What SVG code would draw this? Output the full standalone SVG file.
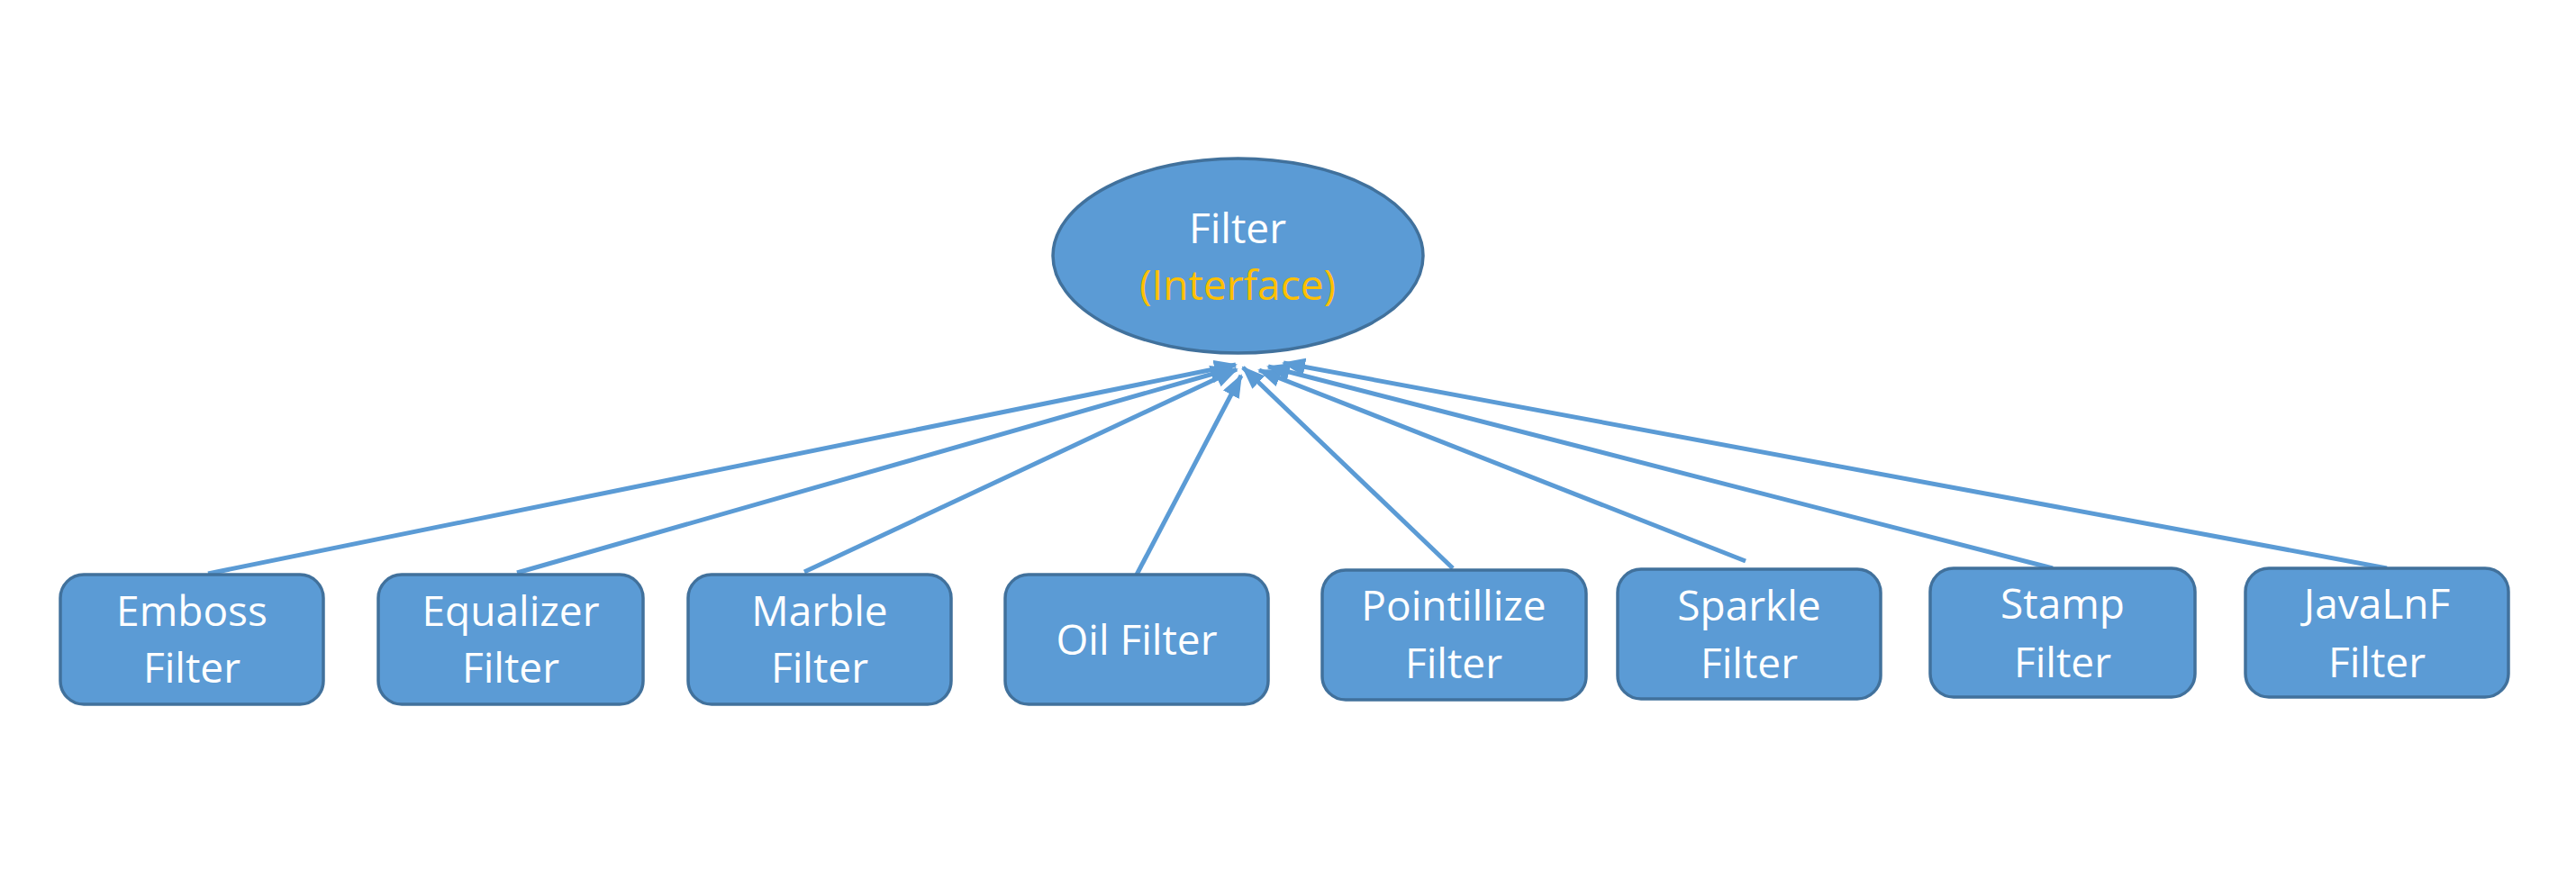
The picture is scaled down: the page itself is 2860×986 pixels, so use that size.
<svg xmlns="http://www.w3.org/2000/svg" width="2860" height="986" viewBox="0 0 2860 986">
<style>
.node{fill:#5B9BD5;stroke:#41719C;stroke-width:3.5}
.t{font-family:"Open Sans","Liberation Sans",sans-serif;font-size:46px;fill:#FFFFFF;text-anchor:middle}
.y{fill:#FFC000}
.c{stroke:#5B9BD5;stroke-width:5;fill:none;marker-end:url(#ah)}
</style>
<defs>
<marker id="ah" markerUnits="userSpaceOnUse" markerWidth="26" markerHeight="20" refX="24" refY="10" orient="auto" viewBox="0 0 26 20">
<path d="M0,0 L26,10 L0,20 Z" fill="#5B9BD5"/>
</marker>
</defs>
<rect width="2860" height="986" fill="#FFFFFF"/>
<g id="connectors">
<line class="c" x1="231" y1="637" x2="1372" y2="405"/>
<line class="c" x1="574" y1="636" x2="1368" y2="409"/>
<line class="c" x1="893" y1="635" x2="1373" y2="410"/>
<line class="c" x1="1262" y1="638" x2="1378" y2="417"/>
<line class="c" x1="1613" y1="631" x2="1380" y2="408"/>
<line class="c" x1="1938" y1="623" x2="1398" y2="411"/>
<line class="c" x1="2279" y1="631" x2="1408" y2="407"/>
<line class="c" x1="2650" y1="631" x2="1425" y2="403"/>
</g>
<g id="filter">
<ellipse class="node" cx="1374.5" cy="284" rx="205.5" ry="108"/>
<text class="t" x="1374" y="270">Filter</text>
<text class="t y" x="1374" y="333">(Interface)</text>
</g>
<g id="emboss">
<rect class="node" x="67" y="638" width="292" height="144" rx="26"/>
<text class="t" x="213" y="695">Emboss</text>
<text class="t" x="213" y="758">Filter</text>
</g>
<g id="equalizer">
<rect class="node" x="420" y="638" width="294" height="144" rx="26"/>
<text class="t" x="567" y="695">Equalizer</text>
<text class="t" x="567" y="758">Filter</text>
</g>
<g id="marble">
<rect class="node" x="764" y="638" width="292" height="144" rx="26"/>
<text class="t" x="910" y="695">Marble</text>
<text class="t" x="910" y="758">Filter</text>
</g>
<g id="oil">
<rect class="node" x="1116" y="638" width="292" height="144" rx="26"/>
<text class="t" x="1262" y="727">Oil Filter</text>
</g>
<g id="pointillize">
<rect class="node" x="1468" y="633" width="293" height="144" rx="26"/>
<text class="t" x="1614" y="689">Pointillize</text>
<text class="t" x="1614" y="753">Filter</text>
</g>
<g id="sparkle">
<rect class="node" x="1796" y="632" width="292" height="144" rx="26"/>
<text class="t" x="1942" y="689">Sparkle</text>
<text class="t" x="1942" y="753">Filter</text>
</g>
<g id="stamp">
<rect class="node" x="2143" y="631" width="294" height="143" rx="26"/>
<text class="t" x="2290" y="687">Stamp</text>
<text class="t" x="2290" y="752">Filter</text>
</g>
<g id="javalnf">
<rect class="node" x="2493" y="631" width="292" height="143" rx="26"/>
<text class="t" x="2639" y="687">JavaLnF</text>
<text class="t" x="2639" y="752">Filter</text>
</g>
</svg>
